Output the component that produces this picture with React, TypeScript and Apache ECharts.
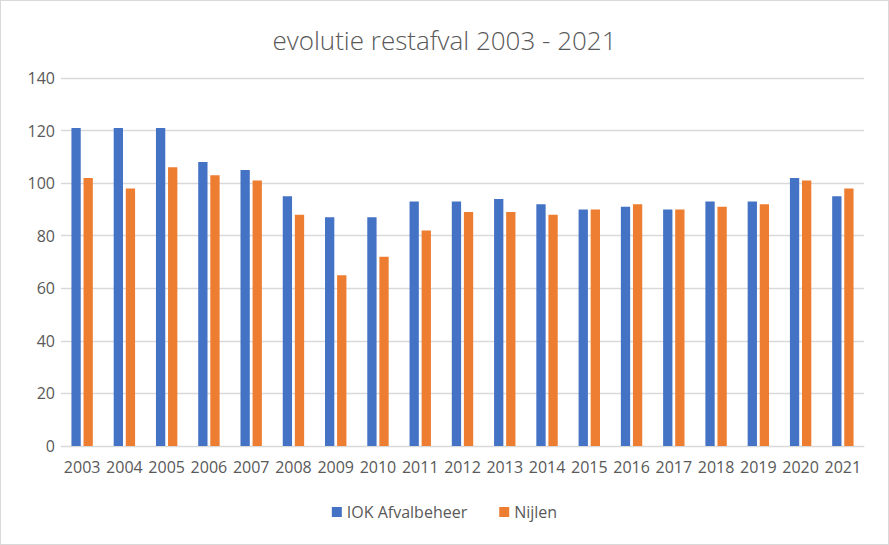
import React, { useEffect, useRef } from "react";
import * as echarts from "echarts";

const categories = ["2003","2004","2005","2006","2007","2008","2009","2010","2011","2012","2013","2014","2015","2016","2017","2018","2019","2020","2021"];
const iokValues = [121,121,121,108,105,95,87,87,93,93,94,92,90,91,90,93,93,102,95];
const nijlenValues = [102,98,106,103,101,88,65,72,82,89,89,88,90,92,90,91,92,101,98];
const yTicks = { min: 0, max: 140, interval: 20 };

export default function App() {
  const ref = useRef<HTMLDivElement>(null);
  useEffect(() => {
    if (!ref.current) return;
    const chart = echarts.init(ref.current, null, { renderer: "svg" });
    const font = "'Open Sans', 'DejaVu Sans', sans-serif";
    chart.setOption({
      animation: false,
      backgroundColor: "#ffffff",
      title: {
        text: "evolutie restafval 2003 - 2021",
        left: "center",
        top: 21,
        textStyle: { fontFamily: font, fontSize: 26, fontWeight: 300, color: "#595959" },
      },
      legend: {
        bottom: 19,
        left: "center",
        itemWidth: 10,
        itemHeight: 10,
        itemGap: 32,
        icon: "rect",
        textStyle: { fontFamily: font, fontSize: 16, color: "#595959" },
        data: ["IOK Afvalbeheer", "Nijlen"],
      },
      grid: { left: 60, right: 24, top: 77, bottom: 98, containLabel: false },
      xAxis: {
        type: "category",
        data: categories,
        axisLine: { lineStyle: { color: "#d9d9d9", width: 1 } },
        axisTick: { show: false },
        axisLabel: { interval: 0, fontFamily: font, fontSize: 16, color: "#595959", margin: 13 },
      },
      yAxis: {
        type: "value",
        min: yTicks.min,
        max: yTicks.max,
        interval: yTicks.interval,
        axisLine: { show: false },
        axisTick: { show: false },
        axisLabel: { fontFamily: font, fontSize: 16, color: "#595959", margin: 6 },
        splitLine: { lineStyle: { color: "#d9d9d9", width: 1.3 } },
      },
      series: [
        {
          name: "IOK Afvalbeheer",
          type: "bar",
          data: iokValues,
          barWidth: "22%",
          barGap: "30%",
          itemStyle: { color: "#4472C4" },
        },
        {
          name: "Nijlen",
          type: "bar",
          data: nijlenValues,
          barWidth: "22%",
          barGap: "30%",
          itemStyle: { color: "#ED7D31" },
        },
      ],
    });
    return () => chart.dispose();
  }, []);
  return (
    <div
      ref={ref}
      style={{
        position: "fixed",
        left: 0,
        top: 0,
        width: 889,
        height: 545,
        boxSizing: "border-box",
        border: "1px solid #d9d9d9",
        background: "#fff",
      }}
    />
  );
}
